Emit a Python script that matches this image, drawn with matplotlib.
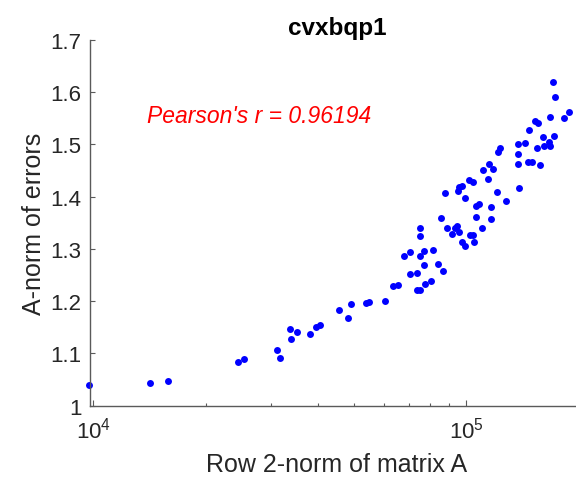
import matplotlib
matplotlib.use("Agg")
import matplotlib.pyplot as plt
from matplotlib.ticker import LogLocator, FixedLocator, NullFormatter

# row 2-norm of A (x) against A-norm of errors (y), one dot per run
row_norm = [
    9756, 14215, 15830, 24390, 25300, 31020, 31720, 33680, 33830, 35230,
    38030, 39470, 40530, 45650, 48280, 48980, 53840, 54740, 60530, 63610,
    65720, 68200, 70780, 70520, 73620, 73890, 75000, 75140, 75280, 75280,
    77160, 77160, 77640, 80420, 81400, 84110, 86430, 85540, 88930, 91400,
    93250, 94430, 95770, 97560, 99200, 102500, 104000, 105050, 110000, 116300,
    106200, 171100, 172900, 188500, 183100, 167300, 152600, 155700, 147300, 172200,
    160300, 166300, 167600, 161300, 155000, 137300, 143400, 137900, 137900, 146400,
    149800, 157600, 138700, 122900, 121600, 115100, 110700, 117700, 114100, 101900,
    104200, 87670, 95420, 94820, 97560, 99380, 120600, 127500, 106000, 108100,
    116300, 200500,
]
a_norm_err = [
    1.040, 1.043, 1.047, 1.084, 1.089, 1.107, 1.092, 1.147, 1.127, 1.141,
    1.138, 1.150, 1.154, 1.183, 1.167, 1.195, 1.196, 1.199, 1.200, 1.229,
    1.231, 1.286, 1.294, 1.252, 1.254, 1.221, 1.221, 1.340, 1.324, 1.286,
    1.296, 1.269, 1.233, 1.238, 1.298, 1.271, 1.258, 1.360, 1.341, 1.328,
    1.340, 1.344, 1.332, 1.314, 1.305, 1.326, 1.326, 1.314, 1.341, 1.358,
    1.362, 1.620, 1.590, 1.562, 1.550, 1.552, 1.544, 1.541, 1.528, 1.516,
    1.514, 1.504, 1.498, 1.497, 1.493, 1.500, 1.502, 1.481, 1.462, 1.467,
    1.467, 1.461, 1.416, 1.493, 1.485, 1.463, 1.451, 1.453, 1.433, 1.432,
    1.429, 1.408, 1.418, 1.411, 1.421, 1.398, 1.410, 1.391, 1.382, 1.386,
    1.380, 1.672,
]
pearson_r = 0.96194
y_ticks = [1, 1.1, 1.2, 1.3, 1.4, 1.5, 1.6, 1.7]

plt.rcParams['font.family'] = ['Liberation Sans', 'DejaVu Sans']
ink = '#262626'
axis_col = '#5a5a5a'

fig = plt.figure(figsize=(5.76, 4.81), dpi=100)
# the axes run a little past the right edge of the figure
ax = fig.add_axes([90 / 576, 74.3 / 481, 494 / 576, 365.7 / 481])

ax.plot(row_norm, a_norm_err, 'o', color='blue', markersize=5,
        markeredgewidth=0, clip_on=False)

ax.set_xscale('log')
ax.set_xlim(9798, 206800)
ax.set_ylim(1, 1.7)
ax.xaxis.set_major_locator(LogLocator(base=10))
ax.xaxis.set_minor_locator(LogLocator(base=10, subs=range(2, 10)))
ax.xaxis.set_minor_formatter(NullFormatter())
ax.yaxis.set_major_locator(FixedLocator(y_ticks))
ax.set_yticklabels([f'{t:g}' for t in y_ticks])

for side in ('top', 'right'):
    ax.spines[side].set_visible(False)
for side in ('left', 'bottom'):
    ax.spines[side].set_color(axis_col)
    ax.spines[side].set_linewidth(1.0)

ax.tick_params(axis='both', which='major', direction='in', length=4.5,
               width=0.8, color=axis_col, labelcolor=ink, labelsize=16)
ax.tick_params(axis='x', which='minor', direction='in', length=2.5,
               width=0.8, color=axis_col)
ax.tick_params(axis='y', which='major', length=3.5, pad=6)
ax.tick_params(axis='x', which='major', pad=8)

ax.set_xlabel('Row 2-norm of matrix A', fontsize=18, color=ink, labelpad=7)
ax.set_ylabel('A-norm of errors', fontsize=18, color=ink, labelpad=3)
ax.set_title('cvxbqp1', fontsize=17.5, fontweight='bold', color='black', pad=4)

ax.text(13930, 1.556, f"Pearson's r = {pearson_r}", color='red',
        fontsize=16.5, fontstyle='italic', va='center', ha='left')

fig.savefig('out.png', dpi=100)
